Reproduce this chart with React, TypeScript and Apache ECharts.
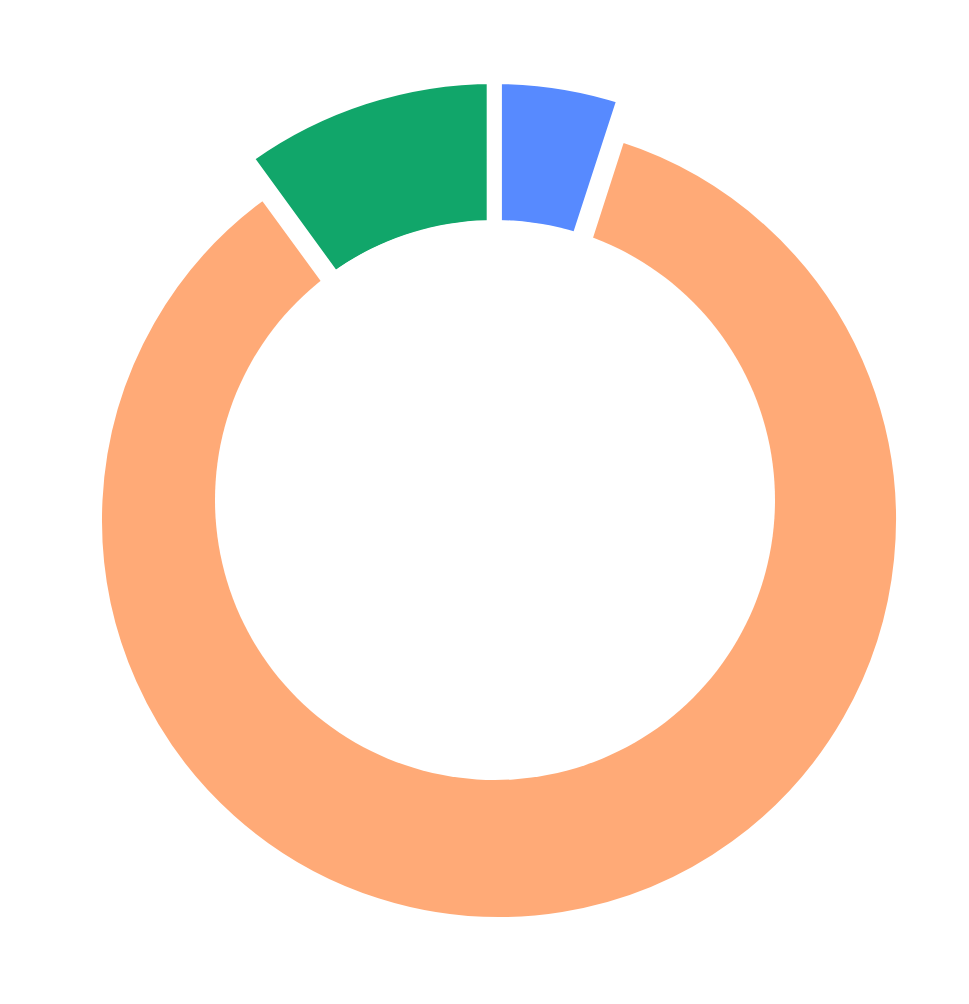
import React, { useEffect, useRef } from "react";
import * as echarts from "echarts";

const categories = ["Blue", "Orange", "Green"];
const values = [5, 85, 10];
const colors = ["#578AFF", "#FFAA77", "#11A66A"];

export default function App() {
  const ref = useRef<HTMLDivElement>(null);
  useEffect(() => {
    const chart = echarts.init(ref.current!, null, { renderer: "svg" });
    const hidden = { color: "rgba(0,0,0,0)", borderWidth: 0 };
    const series1Data = categories.map((name, i) => ({
      name,
      value: values[i],
      itemStyle: i === 1 ? { color: colors[i], borderColor: "#ffffff", borderWidth: 6 } : hidden,
    }));
    const series2Data = categories.map((name, i) => ({
      name,
      value: values[i],
      itemStyle: i === 1 ? hidden : { color: colors[i], borderColor: "#ffffff", borderWidth: 15 },
    }));
    chart.setOption({
      animation: false,
      series: [
        {
          type: "pie",
          center: [499, 520],
          radius: [200, 400],
          startAngle: 90.15,
          clockwise: true,
          silent: true,
          z: 1,
          label: { show: false },
          labelLine: { show: false },
          data: series1Data,
        },
        {
          type: "pie",
          center: [494.2, 500],
          radius: [272, 423.5],
          startAngle: 90,
          clockwise: true,
          silent: true,
          z: 2,
          label: { show: false },
          labelLine: { show: false },
          data: series2Data,
        },
      ],
      graphic: [
        {
          type: "circle",
          z: 100,
          shape: { cx: 495, cy: 500, r: 280 },
          style: { fill: "#ffffff" },
          silent: true,
        },
      ],
    });
    return () => chart.dispose();
  }, []);
  return (
    <div
      ref={ref}
      style={{ position: "absolute", left: 0, top: 0, width: 969, height: 1004 }}
    />
  );
}
